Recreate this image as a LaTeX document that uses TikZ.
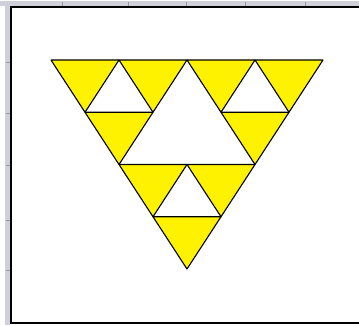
\documentclass[tikz,border=0pt]{standalone}
\usetikzlibrary{calc}
\definecolor{bandcol}{RGB}{208,208,218}
\definecolor{tickcol}{RGB}{150,150,160}
\newcommand{\sierpsub}[3]{%
  \path (#1) coordinate (p1) (#2) coordinate (p2) (#3) coordinate (p3);
  \path ($(p1)!0.5!(p2)$) coordinate (m12) ($(p1)!0.5!(p3)$) coordinate (m13) ($(p2)!0.5!(p3)$) coordinate (m23);
  \draw[yel] (p1) -- (m12) -- (m13) -- cycle;
  \draw[yel] (m12) -- (p2) -- (m23) -- cycle;
  \draw[yel] (m13) -- (m23) -- (p3) -- cycle;
}
\begin{document}
\begin{tikzpicture}[x=1pt,y=-1pt,
  yel/.style={fill=yellow,draw=black,line width=1.1pt,line join=round},
  band/.style={fill=bandcol,draw=none},
  tick/.style={draw=tickcol,line width=0.8pt}]
\useasboundingbox (0,0) rectangle (359,325);
\fill[white] (0,0) rectangle (359,325);
% ruler-like bands
\path[band] (0,1) rectangle (359,6);
\path[band] (5,6) rectangle (10,325);
\foreach \x in {62,128,186,245,305} \draw[tick] (\x,2) -- (\x,6);
\foreach \y in {62,113,165,220,270} \draw[tick] (6,\y) -- (10,\y);
% frame
\draw[black,line width=1.2pt] (359,7) -- (11,7) -- (11,323) -- (359,323);
% Sierpinski triangle
\coordinate (A) at (51,60);
\coordinate (B) at (323,60);
\coordinate (C) at (187,269);
\coordinate (AB) at ($(A)!0.5!(B)$);
\coordinate (AC) at ($(A)!0.5!(C)$);
\coordinate (BC) at ($(B)!0.5!(C)$);
\sierpsub{A}{AB}{AC}
\sierpsub{AB}{B}{BC}
\sierpsub{AC}{BC}{C}
\draw[black,line width=1.5pt] (AC) -- (BC);
\end{tikzpicture}
\end{document}
